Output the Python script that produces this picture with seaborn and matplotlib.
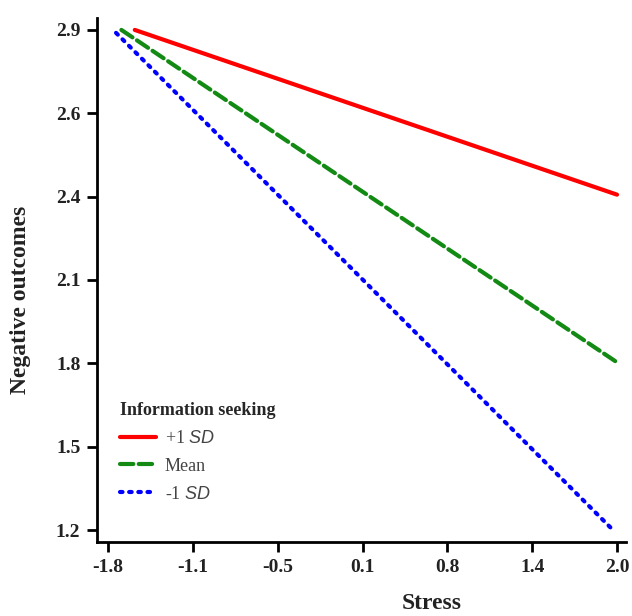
import numpy as np
import pandas as pd
import matplotlib
matplotlib.use('Agg')
import matplotlib.pyplot as plt
import seaborn as sns

# values
groups = ['+1 SD', 'Mean', '-1 SD']
stress_start = [-1.60, -1.70, -1.74]
stress_end = [2.00, 2.00, 1.97]
outcome_start = [2.90, 2.90, 2.89]
outcome_end = [2.34, 1.77, 1.20]
legend_labels = ['+1 $\\it{SD}$', 'Mean', '-1 $\\it{SD}$']
colors = ['#ff0000', '#138a13', '#0000ff']
styles = ['-', (0, (3.2, 1.3)), (0, (0.6, 1.6))]

x_ticklabels = ['-1.8', '-1.1', '-0.5', '0.1', '0.8', '1.4', '2.0']
y_ticklabels = ['1.2', '1.5', '1.8', '2.1', '2.4', '2.6', '2.9']

rows = []
for g, x0, x1, y0, y1 in zip(groups, stress_start, stress_end, outcome_start, outcome_end):
    rows.append({'group': g, 'Stress': x0, 'Outcome': y0})
    rows.append({'group': g, 'Stress': x1, 'Outcome': y1})
df = pd.DataFrame(rows)

sns.set_style('white')
plt.rcParams['font.family'] = ['Liberation Serif', 'DejaVu Serif']
plt.rcParams['mathtext.fontset'] = 'custom'
plt.rcParams['mathtext.it'] = 'Liberation Sans:italic'
plt.rcParams['mathtext.rm'] = 'Liberation Serif'

fig = plt.figure(figsize=(6.32, 6.16), dpi=100)
ax = fig.add_axes([0.1535, 0.120, 0.837, 0.851])

for g, lab, c, ls in zip(groups, legend_labels, colors, styles):
    sub = df[df['group'] == g]
    sns.lineplot(data=sub, x='Stress', y='Outcome', ax=ax, color=c, label=lab,
                 linewidth=3.0, linestyle=ls, dash_capstyle='round')

ax.set_xlim(-1.882, 2.067)
ax.set_ylim(1.159, 2.941)
ax.set_xticks(np.linspace(-1.8, 2.0, 7))
ax.set_xticklabels(x_ticklabels)
ax.set_yticks(np.linspace(1.2, 2.9, 7))
ax.set_yticklabels(y_ticklabels)
ax.tick_params(axis='both', direction='out', length=7, width=2, color='black',
               labelsize=14, labelcolor='#222222', pad=5, left=True, bottom=True)
for t in ax.get_xticklabels() + ax.get_yticklabels():
    t.set_fontweight('bold')

sns.despine(ax=ax)
for s in ['left', 'bottom']:
    ax.spines[s].set_linewidth(2)
    ax.spines[s].set_color('black')

ax.set_xlabel('Stress', fontsize=17, fontweight='bold', color='#222222')
ax.set_ylabel('Negative outcomes', fontsize=17, fontweight='bold', color='#222222')
ax.xaxis.set_label_coords(0.633, -0.098)
ax.yaxis.set_label_coords(-0.125, 0.462)

leg = ax.legend(title='Information seeking', loc='upper left', bbox_to_anchor=(0.012, 0.298),
                frameon=False, fontsize=13, handlelength=2.0, alignment='left',
                labelspacing=0.6, handletextpad=0.5)
leg.get_title().set_fontweight('bold')
leg.get_title().set_fontsize(13)
for t in leg.get_texts():
    t.set_color('#444444')

fig.savefig('out.png', dpi=100)
